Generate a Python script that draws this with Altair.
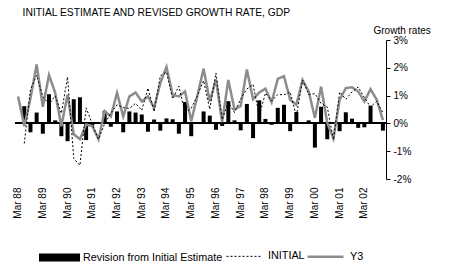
import altair as alt
import pandas as pd

years = list(range(88, 103))
months = ["Mar", "Jun", "Sep", "Dec"]
quarters = [f"{m} {y % 100:02d}" for y in years for m in months]
mar_labels = [q for q in quarters if q.startswith("Mar")]

y3 = [0.97, -0.10, 0.90, 2.12, 0.60, 1.74, 1.10, -0.10, 1.03, -0.39,
      -0.57, -0.04, -0.10, -0.57, 0.44, 0.25, 1.10, 0.25, 0.97, 1.11,
      0.79, 0.97, 0.56, 1.45, 2.03, 1.03, 0.97, 1.15, 0.08, 1.00,
      1.97, 0.79, 1.58, 0.05, 1.56, 0.50, 0.63, 1.94, 0.87, 1.11,
      1.25, 0.76, 1.60, 1.70, 0.85, 0.67, 1.56, 1.15, 0.20, 1.32,
      0.02, -0.54, 0.85, 1.27, 1.30, 1.15, 0.79, 1.23, 0.85, 0.12]

initial = [None, -0.72, 1.22, 1.73, 0.97, 0.69, 0.99, 0.36, 1.67, -1.26,
           -1.51, 0.56, -0.02, -0.57, -0.01, 0.37, 0.67, 0.57, 0.54, 0.72,
           0.47, 1.27, 0.42, 1.71, 1.85, 0.88, 1.34, 0.38, 0.54, 1.00,
           1.54, 0.51, 1.81, 0.14, 0.76, 0.39, 0.88, 1.24, 1.40, 0.28,
           1.09, 0.81, 1.04, 1.03, 1.13, 0.26, 1.56, 1.04, 1.07, 0.72,
           0.59, -0.59, 1.13, 0.87, 1.13, 1.31, 0.93, 0.59, 0.80, 0.38]

revision = [None, 0.62, -0.32, 0.39, -0.37, 1.05, 0.11, -0.46, -0.64, 0.87,
            0.94, -0.60, -0.08, 0.00, 0.45, -0.12, 0.43, -0.32, 0.43, 0.39,
            0.32, -0.30, 0.14, -0.26, 0.18, 0.15, -0.37, 0.77, -0.46, 0.00,
            0.43, 0.28, -0.23, -0.09, 0.80, 0.11, -0.25, 0.70, -0.53, 0.83,
            0.16, -0.05, 0.56, 0.67, -0.28, 0.41, 0.00, 0.11, -0.87, 0.60,
            -0.57, 0.05, -0.28, 0.40, 0.17, -0.16, -0.14, 0.64, 0.05, -0.26]

series_names = ["INITIAL", "Y3"]
bar_name = "Revision from Initial Estimate"

df = pd.DataFrame({"quarter": quarters, "Y3": y3, "INITIAL": initial, "revision": revision})

FONT = "Liberation Sans"

xscale = alt.Scale(paddingInner=0.38, paddingOuter=0.19)
yscale = alt.Scale(domain=[-2, 3], nice=False, zero=False)

xaxis = alt.Axis(values=mar_labels, labelAngle=270, labelPadding=8,
                 ticks=False, domain=False, title=None, labelFontSize=10,
                 labelOverlap=False, labelColor="black", labelFont=FONT)
yaxis = alt.Axis(orient="right", values=[-2, -1, 0, 1, 2, 3],
                 labelExpr="datum.value + '%'", grid=False,
                 domainColor="black", tickColor="black", tickSize=4,
                 labelFontSize=10, labelColor="black", labelFont=FONT,
                 labelPadding=3,
                 title="Growth rates", titleAngle=0, titleAlign="left",
                 titleBaseline="bottom", titleX=-13, titleY=-5,
                 titleFontWeight="normal", titleFontSize=10,
                 titleColor="black", titleFont=FONT)

bars = alt.Chart(df).transform_filter(
    "isValid(datum.revision)"
).transform_calculate(
    kind=f"'{bar_name}'"
).mark_bar(size=4).encode(
    x=alt.X("quarter:N", sort=quarters, scale=xscale, axis=xaxis),
    y=alt.Y("revision:Q", scale=yscale, axis=yaxis),
    fill=alt.Fill("kind:N", scale=alt.Scale(domain=[bar_name], range=["black"]),
                  legend=alt.Legend(orient="none", legendX=24, legendY=197,
                                    title=None, direction="horizontal",
                                    symbolType="M-1,-0.2H1V0.2H-1Z", symbolSize=1681,
                                    symbolStrokeWidth=0, labelFontSize=10.8,
                                    labelFont=FONT, labelColor="black", labelOffset=3)),
)

zero = alt.Chart(df).mark_rule(color="black", strokeWidth=1).encode(
    y=alt.datum(0, scale=yscale, axis=yaxis)
)

line_legend = alt.Legend(orient="none", legendX=211, legendY=197, title=None,
                         direction="horizontal", symbolType="stroke",
                         symbolSize=1296, labelFontSize=10.8, labelFont=FONT,
                         labelColor="black", labelOffset=5, columnPadding=-3)

lines = alt.Chart(df).transform_fold(
    series_names, as_=["series", "value"]
).transform_filter("isValid(datum.value)").mark_line().encode(
    x=alt.X("quarter:N", sort=quarters, scale=xscale, axis=xaxis),
    y=alt.Y("value:Q", scale=yscale, axis=yaxis),
    stroke=alt.Stroke("series:N", scale=alt.Scale(domain=series_names, range=["black", "#8c8c8c"]),
                      legend=line_legend),
    strokeDash=alt.StrokeDash("series:N", scale=alt.Scale(domain=series_names, range=[[2, 2], [1, 0]]),
                              legend=line_legend),
    strokeWidth=alt.StrokeWidth("series:N", scale=alt.Scale(domain=series_names, range=[1, 2.5]),
                                legend=line_legend),
)

chart = alt.layer(bars, zero, lines).properties(
    width=371, height=139,
    autosize=alt.AutoSizeParams(type="none"),
    padding={"left": 7, "top": 32, "right": 60, "bottom": 100},
    title=alt.Title("INITIAL ESTIMATE AND REVISED GROWTH RATE, GDP", anchor="start",
                    dx=10, offset=7, fontSize=10.3, fontWeight="normal",
                    font=FONT, color="black"),
).configure(font=FONT).configure_view(stroke=None)

chart.save("out.html", embed_options={"renderer": "svg", "actions": False})
